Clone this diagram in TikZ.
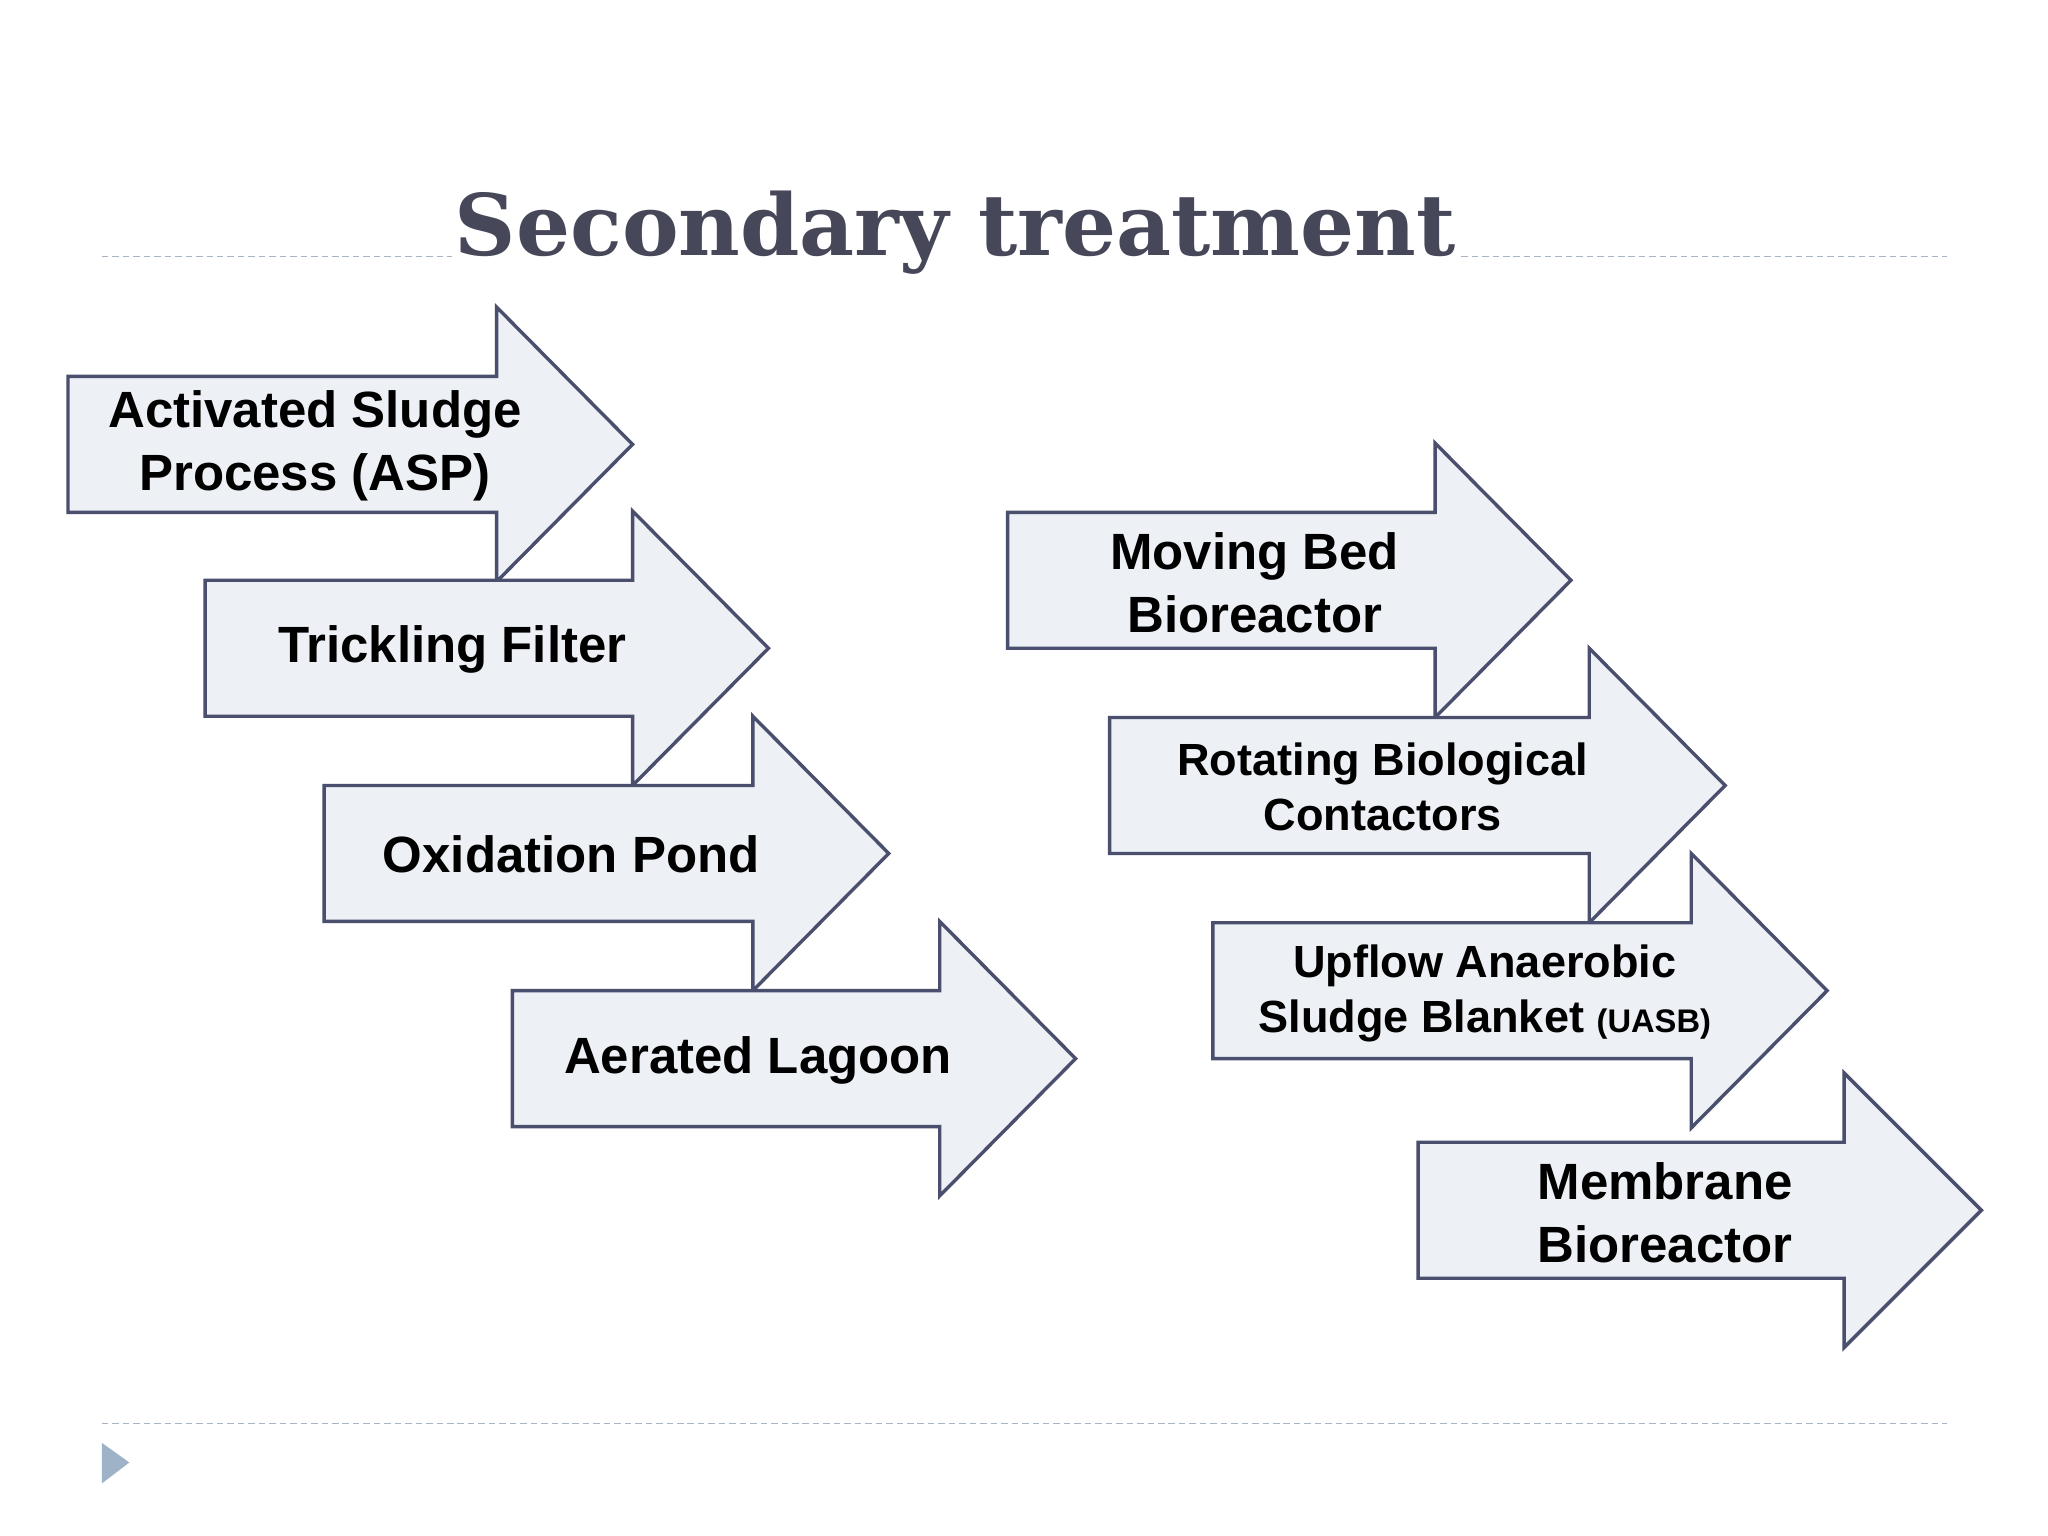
\documentclass[tikz,border=0pt]{standalone}
\usepackage{fontspec}
\setmainfont{Liberation Sans}
\newfontfamily\titlefont{DejaVu Serif}
\definecolor{edge}{HTML}{4A4F6E}
\definecolor{fillc}{HTML}{EDF0F5}
\definecolor{titlec}{HTML}{464859}
\definecolor{rule}{HTML}{A8B4C4}
\definecolor{tri}{HTML}{9FB3C8}
\tikzset{
 arr/.style={draw=edge,line width=2.6pt,fill=fillc,line join=miter},
 lab/.style={align=center,font=\bfseries\fontsize{39}{48}\selectfont,text=black},
 labs/.style={align=center,font=\bfseries\fontsize{34.5}{42}\selectfont,text=black},
 sep/.style={draw=rule,dashed,line width=1pt,dash pattern=on 5pt off 3pt}
}
\newcommand\sarrow[4]{% x0, xneck, xtip, ycenter (px, y down)
 \draw[arr] (#1,{-(#4-52)}) -- (#2,{-(#4-52)}) -- (#2,{-(#4-105)}) -- (#3,{-#4}) -- (#2,{-(#4+105)}) -- (#2,{-(#4+52)}) -- (#1,{-(#4+52)}) -- cycle;}
\begin{document}
\begin{tikzpicture}[x=1pt,y=1pt]
\useasboundingbox (0,0) rectangle (1567,-1175);
\fill[white] (0,0) rectangle (1567,-1175);
\draw[sep] (78,-196) -- (1490,-196);
\draw[sep] (78,-1089) -- (1490,-1089);
\node[font=\titlefont\bfseries\fontsize{65}{72}\selectfont,text=titlec,fill=white,inner sep=2pt] (title) at (731,-178) {Secondary treatment};
\fill[tri] (78,-1104) -- (99,-1119) -- (78,-1135) -- cycle;
\sarrow{52}{380}{484}{340}
\sarrow{157}{484}{588}{496}
\sarrow{248}{576}{680}{653}
\sarrow{392}{719}{823}{810}
\sarrow{771}{1098}{1202}{444}
\sarrow{849}{1216}{1320}{601}
\sarrow{928}{1294}{1398}{758}
\sarrow{1085}{1411}{1516}{926}
\node[lab] (asp) at (241,-341) {Activated Sludge\\Process (ASP)};
\node[lab] (tf) at (346,-497) {Trickling Filter};
\node[lab] (op) at (437,-654) {Oxidation Pond};
\node[lab] (al) at (580,-811) {Aerated Lagoon};
\node[lab] (mb) at (960,-446) {Moving Bed\\Bioreactor};
\node[labs] (rbc) at (1058,-602) {Rotating Biological\\Contactors};
\node[labs] (uasb) at (1136,-760) {Upflow Anaerobic\\Sludge Blanket {\fontsize{25}{30}\selectfont(UASB)}};
\node[lab] (mbr) at (1274,-928) {Membrane\\Bioreactor};
\end{tikzpicture}
\end{document}
